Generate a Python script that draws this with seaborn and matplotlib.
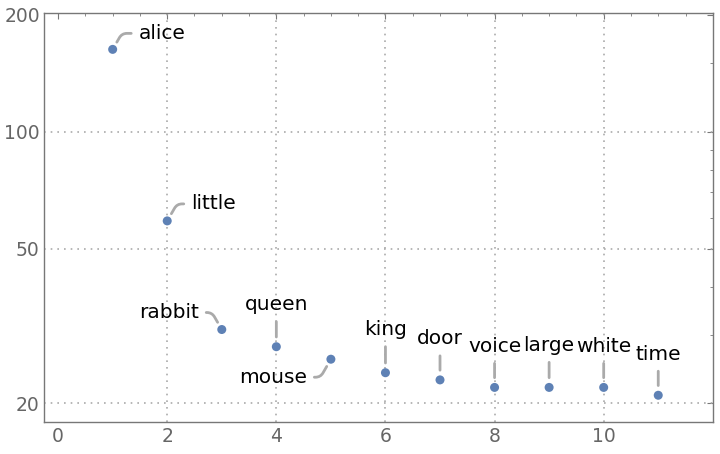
import matplotlib
matplotlib.use('Agg')
import matplotlib.pyplot as plt
import matplotlib.ticker as mticker
import seaborn as sns
import pandas as pd

words = ['alice', 'little', 'rabbit', 'queen', 'mouse', 'king', 'door',
         'voice', 'large', 'white', 'time']
rank = [1, 2, 3, 4, 5, 6, 7, 8, 9, 10, 11]
counts = [163, 59, 31, 28, 26, 24, 23, 22, 22, 22, 21]

# label offsets in pixels (dx, dy) and text alignment
offsets = [(26, 16, 'left'), (24, 17, 'left'), (-23, 17, 'right'),
           (0, 42, 'center'), (-24, -18, 'right'), (0, 43, 'center'),
           (0, 41, 'center'), (0, 41, 'center'), (0, 42, 'center'),
           (0, 41, 'center'), (0, 41, 'center')]

df = pd.DataFrame({'rank': rank, 'count': counts, 'word': words})

sns.set_style('white')
plt.rcParams['font.family'] = ['DejaVu Sans']

fig, ax = plt.subplots(figsize=(7.2, 4.54), dpi=100)
fig.subplots_adjust(left=0.061, right=0.990, top=0.971, bottom=0.070)

sns.scatterplot(data=df, x='rank', y='count', ax=ax, color='#5E81B5',
                s=42, edgecolor='none', zorder=3)

ax.set_yscale('log')
ax.set_xlim(-0.26, 12.0)
ax.set_ylim(17.9, 202)

ax.yaxis.set_major_locator(mticker.FixedLocator([20, 50, 100, 200]))
ax.yaxis.set_major_formatter(mticker.FixedFormatter(['20', '50', '100', '200']))
ax.yaxis.set_minor_locator(mticker.FixedLocator([30, 40, 60, 70, 80, 90, 150]))
ax.yaxis.set_minor_formatter(mticker.NullFormatter())
ax.xaxis.set_major_locator(mticker.FixedLocator([0, 2, 4, 6, 8, 10]))
ax.xaxis.set_minor_locator(mticker.MultipleLocator(0.5))

for v in [2, 4, 6, 8, 10]:
    ax.axvline(v, color='#aaaaaa', lw=1.2, ls=(0, (1, 3)), zorder=1)
for v in [20, 50, 100]:
    ax.axhline(v, color='#aaaaaa', lw=1.2, ls=(0, (1, 3)), zorder=1)

for s in ax.spines.values():
    s.set_color('#777777')
    s.set_linewidth(1.0)

ax.tick_params(which='both', direction='in', top=True, right=True,
               color='#777777', labelcolor='#666666', labelsize=13.5)
ax.tick_params(which='major', length=4)
ax.tick_params(which='minor', length=2.5)
ax.tick_params(axis='y', pad=3)
ax.set_xlabel('')
ax.set_ylabel('')

for w, x, y, (dx, dy, ha) in zip(words, rank, counts, offsets):
    if ha == 'center':
        cs = 'arc3'
        shA, shB = 3, 7
    else:
        ang = 60 if dx * dy > 0 else -60
        cs = 'angle,angleA=0,angleB=%d,rad=5' % ang
        shA, shB = 3, 6
    ax.annotate(w, (x, y), xytext=(dx, dy), textcoords='offset pixels',
                ha=ha, va='center', fontsize=14.5, color='black',
                arrowprops=dict(arrowstyle='-', color='#aaaaaa', lw=2,
                                connectionstyle=cs, shrinkA=shA, shrinkB=shB))

fig.savefig('out.png', dpi=100)
